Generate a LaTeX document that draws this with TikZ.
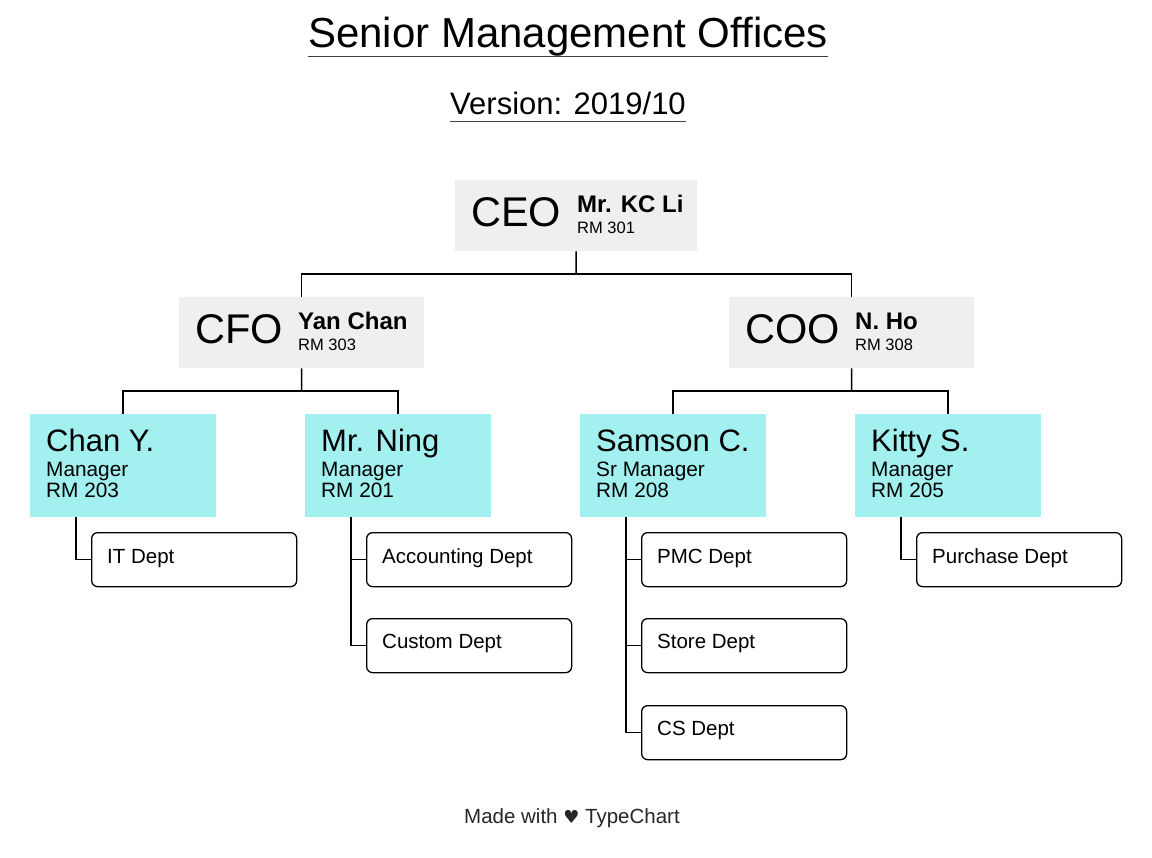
\documentclass[tikz,border=0pt]{standalone}
\usepackage{fontspec}
\setmainfont{Liberation Sans}
\newfontfamily\symfont{DejaVu Sans}
\definecolor{boxgray}{RGB}{239,239,239}
\definecolor{boxcyan}{RGB}{162,240,240}
\newcommand{\fs}[1]{\fontsize{#1}{#1}\selectfont}
\begin{document}
\begin{tikzpicture}[x=1pt,y=-1pt,
  execbox/.style={fill=boxgray, draw=none, anchor=north west, inner sep=0pt, minimum width=245pt, minimum height=71pt},
  mgrbox/.style={fill=boxcyan, draw=none, anchor=north west, inner sep=0pt, minimum width=186pt, minimum height=103pt},
  deptbox/.style={draw=black, line width=1.3pt, rounded corners=6pt, fill=white, anchor=north west, inner sep=0pt, minimum width=205pt, minimum height=54pt},
  txt/.style={anchor=base west, inner sep=0pt},
  role/.style={txt, font=\fs{41.5}},
  ename/.style={txt, font=\fs{24}\bfseries},
  room/.style={txt, font=\fs{16.5}},
  mname/.style={txt, font=\fs{31}},
  mline/.style={txt, font=\fs{20.8}},
  dtext/.style={txt, font=\fs{20.5}},
  conn/.style={draw=black, line width=1.5pt},
  uline/.style={draw=black!75, line width=1.5pt}
]
\useasboundingbox (0,0) rectangle (1152,858);
\fill[white] (0,0) rectangle (1152,858);

% titles
\node[anchor=base, inner sep=0pt, font=\fs{42}] (title) at (568,48) {Senior Management Offices};
\draw[uline] ([yshift=-8.5pt]title.base west) -- ([yshift=-8.5pt]title.base east);
\node[anchor=base, inner sep=0pt, font=\fs{31}] (version) at (568,115) {Version: 2019/10};
\draw[uline] ([yshift=-6.5pt]version.base west) -- ([yshift=-6.5pt]version.base east);

% executives
\node[execbox, minimum width=242pt] (ceo) at (455,180) {};
\node[role] (ceot) at (471,227) {CEO};
\node[ename] (ceon) at (577,213) {Mr. KC Li};
\node[room] (ceor) at (577,233.5) {RM 301};

\node[execbox] (cfo) at (179,297) {};
\node[role] (cfot) at (195,344) {CFO};
\node[ename] (cfon) at (298,330) {Yan Chan};
\node[room] (cfor) at (298,350.5) {RM 303};

\node[execbox] (coo) at (729,297) {};
\node[role] (coot) at (745,344) {COO};
\node[ename] (coon) at (855,330) {N. Ho};
\node[room] (coor) at (855,350.5) {RM 308};

% managers
\node[mgrbox] (chan) at (30,414) {};
\node[mname] (chant) at (46,452) {Chan Y.};
\node[mline] (chanr) at (46,477) {Manager};
\node[mline] (chanm) at (46,497) {RM 203};

\node[mgrbox] (ning) at (305,414) {};
\node[mname] (ningt) at (321,452) {Mr. Ning};
\node[mline] (ningr) at (321,477) {Manager};
\node[mline] (ningm) at (321,497) {RM 201};

\node[mgrbox] (sam) at (580,414) {};
\node[mname] (samt) at (596,452) {Samson C.};
\node[mline] (samr) at (596,477) {Sr Manager};
\node[mline] (samm) at (596,497) {RM 208};

\node[mgrbox] (kit) at (855,414) {};
\node[mname] (kitt) at (871,452) {Kitty S.};
\node[mline] (kitr) at (871,477) {Manager};
\node[mline] (kitm) at (871,497) {RM 205};

% departments
\node[deptbox] (it) at (91,532) {};
\node[dtext] (itt) at (107,563.5) {IT Dept};
\node[deptbox] (acc) at (366,532) {};
\node[dtext] (acct) at (382,563.5) {Accounting Dept};
\node[deptbox] (cus) at (366,618) {};
\node[dtext] (cust) at (382,648.5) {Custom Dept};
\node[deptbox] (pmc) at (641,532) {};
\node[dtext] (pmct) at (657,563.5) {PMC Dept};
\node[deptbox] (sto) at (641,618) {};
\node[dtext] (stot) at (657,648.5) {Store Dept};
\node[deptbox] (cs) at (641,705) {};
\node[dtext] (cst) at (657,735.5) {CS Dept};
\node[deptbox] (pur) at (916,532) {};
\node[dtext] (purt) at (932,563.5) {Purchase Dept};

% connectors
\coordinate (j1) at (576,274);
\coordinate (j2) at (301.5,391);
\coordinate (j3) at (851.5,391);
\draw[conn] (ceo.south) -- (j1);
\draw[conn] (cfo.north) |- (j1) -| (coo.north);
\draw[conn] (cfo.south) -- (j2);
\draw[conn] (chan.north) |- (j2) -| (ning.north);
\draw[conn] (coo.south) -- (j3);
\draw[conn] (sam.north) |- (j3) -| (kit.north);

\coordinate (s1) at (76,517);
\coordinate (s2) at (351,517);
\coordinate (s3) at (626,517);
\coordinate (s4) at (901,517);
\draw[conn] (s1) |- (it.west);
\draw[conn] (s2) |- (cus.west);
\draw[conn] (acc.west) -- (acc.west -| s2);
\draw[conn] (s3) |- (cs.west);
\draw[conn] (pmc.west) -- (pmc.west -| s3);
\draw[conn] (sto.west) -- (sto.west -| s3);
\draw[conn] (s4) |- (pur.west);

% footer
\node[anchor=base, inner sep=0pt, font=\fs{20.5}, text=black!85] (foot) at (572,823) {Made with {\symfont\fs{18}♥} TypeChart};
\end{tikzpicture}
\end{document}
